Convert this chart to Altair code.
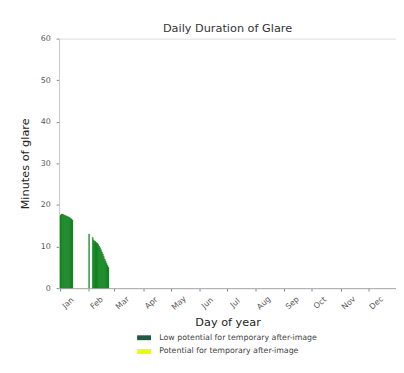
import altair as alt
import pandas as pd

# Day-of-year values (minutes of glare)
block1_days = list(range(1, 15))
block1_vals = [17.5, 17.8, 17.8, 17.7, 17.6, 17.5, 17.4, 17.3, 17.2, 17.1, 17.0, 16.8, 16.6, 16.4]
spike_days = [32]
spike_vals = [13.0]
block2_days = list(range(36, 54))
block2_vals = [12.2, 11.6, 11.3, 11.2, 11.0, 10.8, 10.5, 10.1, 9.7, 9.2, 8.7, 8.2, 7.6, 7.0, 6.5, 6.0, 5.5, 5.0]

month_starts = [1, 32, 60, 91, 121, 152, 182, 213, 244, 274, 305, 335]
month_names = ["Jan", "Feb", "Mar", "Apr", "May", "Jun", "Jul", "Aug", "Sep", "Oct", "Nov", "Dec"]

categories = ["Low potential for temporary after-image", "Potential for temporary after-image"]
legend_colors = ["#1f5a46", "#e8ff00"]
bar_color = "#0b8119"

days = block1_days + spike_days + block2_days
vals = block1_vals + spike_vals + block2_vals
df = pd.DataFrame({"day": days, "minutes": vals})
legend_df = pd.DataFrame({"cat": categories})

label_expr = "[" + ",".join(f"'{m}'" for m in month_names) + "][indexof([" + \
    ",".join(str(d) for d in month_starts) + "], datum.value)]"

xscale = alt.Scale(domain=[0, 365], nice=False, zero=False)
yscale = alt.Scale(domain=[0, 60], nice=False)

xaxis = alt.Axis(
    values=month_starts, labelExpr=label_expr, title="Day of year",
    labelAngle=-42, labelAlign="center", labelBaseline="middle", labelOffset=8,
    labelPadding=12, tickSize=3, labelFontSize=8, labelColor="#555555",
    labelOverlap=False, labelFlush=False, labelBound=False,
    titleFontSize=11.5, titleFontWeight="normal", titleColor="#222222", titlePadding=6,
    domainColor="#aaaaaa", tickColor="#888888", grid=False, labelFont="DejaVu Sans",
    titleFont="DejaVu Sans",
)
yaxis = alt.Axis(
    values=[0, 10, 20, 30, 40, 50, 60], title="Minutes of glare", tickSize=3,
    labelFontSize=8, labelColor="#555555", titleFontSize=11.5, titleFontWeight="normal",
    titleColor="#222222", titlePadding=10, domainColor="#cccccc", tickColor="#888888",
    grid=False, labelFont="DejaVu Sans", titleFont="DejaVu Sans", labelPadding=6,
    labelOverlap=False,
)

bars = alt.Chart(df).transform_calculate(day_end="datum.day + 1", base="0").mark_bar(
    color=bar_color, stroke=bar_color, strokeWidth=0.3
).encode(
    x=alt.X("day:Q", scale=xscale, axis=xaxis),
    x2="day_end:Q",
    y=alt.Y("minutes:Q", scale=yscale, axis=yaxis),
    y2="base:Q",
)

legend_layer = alt.Chart(legend_df).mark_point(opacity=0, filled=True).encode(
    color=alt.Color(
        "cat:N",
        scale=alt.Scale(domain=categories, range=legend_colors),
        legend=alt.Legend(
            title=None, orient="none", legendX=79, legendY=297, direction="vertical",
            symbolType="M-1,-0.35H1V0.35H-1Z", symbolSize=200, symbolOpacity=1,
            symbolStrokeWidth=0, labelFontSize=8, labelColor="#444444",
            labelFont="DejaVu Sans", rowPadding=2, labelOffset=8, labelLimit=0,
        ),
    ),
)

chart = alt.layer(bars, legend_layer).properties(
    width=343, height=254,
    title=alt.TitleParams("Daily Duration of Glare", fontSize=11.5, fontWeight="normal",
                          color="#333333", font="DejaVu Sans", anchor="middle", offset=0),
    autosize=alt.AutoSizeParams(type="none"),
    padding={"left": 52, "top": 28, "right": 0, "bottom": 70},
).configure_view(stroke=None).configure(background="white")

chart.save("out.html", embed_options={"renderer": "svg", "actions": False})
